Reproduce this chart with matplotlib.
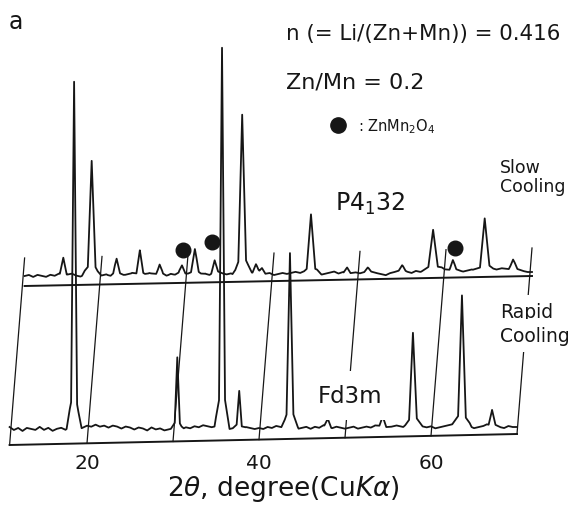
import numpy as np
import matplotlib
matplotlib.use("Agg")
import matplotlib.pyplot as plt

plt.rcParams['font.family'] = ['DejaVu Sans']
plt.rcParams['mathtext.fontset'] = 'dejavusans'

# ---------------- data ----------------
grid_start, grid_end, grid_step = 11.0, 70.0, 0.5

# Slow cooling (upper trace): peak 2theta (deg), height (a.u.), half width (deg)
slow_pos = [15.5, 18.8, 21.7, 24.4, 26.7, 29.3, 30.8, 33.1, 36.3, 37.9, 38.6,
            44.3, 48.5, 50.9, 54.9, 58.5, 60.8, 64.5, 67.8]
slow_h = [19, 114, 15, 24, 10, 8, 24, 13, 157, 8, 5,
          59, 7, 4, 5, 41, 10, 52, 10]
slow_hw = [0.4, 0.45, 0.4, 0.4, 0.4, 0.4, 0.45, 0.4, 0.45, 0.4, 0.4,
           0.5, 0.4, 0.4, 0.4, 0.55, 0.4, 0.55, 0.5]
slow_noise = [0, 1, -1, 1, 0, -1, 1, 0, 1, -1, 0, 2, 0, -1, 1, 0, 1, -1,
              0, 1, -1, 2, 1, 0, 1, 2, 0, 1, 0, 2, 1, 0, 1, -1, 1, 0, 2, 1,
              0, 1, 2, 0, 1, -1, 1, 2, 1, 0, 1, -1, 2, 3, 2, 1, 2, 1, 0, 1,
              -1, 0, 1, 0, 1, 2, 1, 0, 1, 0, 1, -1, 0, 1, 2, 0, 1, -1, 0, 1,
              0, 1, 2, 1, 0, -1, -2, 0, 1, 2, 3, 1, 0, 2, 1, 2, 3, 2, 3, 4,
              3, 2, 3, 2, 1, 2, 3, 2, 1, 2, 3, 2, 3, 4, 3, 2, 3, 2, 1, 0,
              0]

# Rapid cooling (lower trace)
rapid_pos = [18.5, 30.5, 35.7, 37.7, 43.6, 48.0, 54.4, 57.9, 63.6, 67.1]
rapid_h = [347, 70, 380, 37, 173, 9, 12, 92, 131, 17]
rapid_hw = [0.35, 0.3, 0.35, 0.3, 0.4, 0.4, 0.4, 0.45, 0.45, 0.4]
rapid_noise = [2, -1, 1, -2, 1, 0, -1, 2, -1, 1, -2, 0, 1, -1, 2, 0, -1, 1,
               3, 2, 4, 2, 3, 1, 3, 2, 0, 2, 1, -1, 1, 0, -2, 1, -1, 0, -2, -1,
               0, 1, -1, 1, 0, 2, 1, 3, 2, 1, 2, 0, 1, -1, 0, 1, -1, 1, 0, -1,
               0, -1, 1, 0, 2, 1, 0, 2, 1, -1, 0, 1, -1, 1, 0, 2, 0, -1, 1, 0,
               -1, 0, 1, -1, 0, 1, 0, 2, 1, -1, 0, 1, 2, 1, 0, 1, 3, 2, 1, 0,
               1, -1, 0, 1, 2, 3, 2, 1, 0, 1, -1, 0, 1, 2, 0, 1, 0, -1, 1, 0,
               0]

# ZnMn2O4 markers on the slow-cooling pattern
znmn_pos = [29.4, 32.8, 61.0]
znmn_h = [25, 33, 25]

frame_ticks = [11, 20, 30, 40, 50, 60, 70]
tick_labels = [20, 40, 60]

# ---------------- layout ----------------
W, H = 575, 506
PX_PER_DEG = 8.6
X20 = 87.0
SHIFT = 15.0 / PX_PER_DEG        # upper frame offset (deg)
INK = '#161616'


def lower_axis_y(t):
    return 60 + (np.asarray(t) - 11) * 11 / 59


def lower_base_y(t):
    return 76 + (np.asarray(t) - 11) * 2 / 59


def upper_axis_y(t):
    return 219 + (np.asarray(t) - 11) * 10 / 59


def upper_base_y(t):
    return 229 + (np.asarray(t) - 11) * 4 / 59


def px(x, y):
    """pixel position -> data coords of the full-figure axes"""
    return 20 + (x - X20) / PX_PER_DEG, H - y


def pattern(pos, h, hw, noise):
    grid = np.arange(grid_start, grid_end + 1e-9, grid_step)
    pos = np.asarray(pos, float)
    hw = np.asarray(hw, float)
    extra = np.concatenate([pos - 2.5 * hw, pos - hw, pos - hw * 0.15, pos,
                            pos + hw * 0.15, pos + hw, pos + 2.5 * hw])
    xs = np.unique(np.concatenate([grid, extra]))
    xs = xs[(xs >= grid_start) & (xs <= grid_end)]
    ys = np.interp(xs, grid, noise).astype(float)
    for p, hh, w in zip(pos, h, hw):
        ys += 0.88 * hh * np.clip(1 - np.abs(xs - p) / w, 0, None)
        ys += 0.12 * hh * np.clip(1 - np.abs(xs - p) / (2.5 * w), 0, None)
    return xs, ys


fig = plt.figure(figsize=(W / 100, H / 100), dpi=100)
ax = fig.add_axes([0, 0, 1, 1])
ax.set_xlim(20 - X20 / PX_PER_DEG, 20 + (W - X20) / PX_PER_DEG)
ax.set_ylim(0, H)
ax.axis('off')

# lower (rapid cooling) trace
xl, yl = pattern(rapid_pos, rapid_h, rapid_hw, rapid_noise)
ax.plot(xl, yl + lower_base_y(xl), color=INK, lw=1.3, zorder=3)
# upper (slow cooling) trace
xu, yu = pattern(slow_pos, slow_h, slow_hw, slow_noise)
ax.plot(xu + SHIFT, yu + upper_base_y(xu), color=INK, lw=1.3, zorder=3)

# frame axes lines
ends = np.array([grid_start, grid_end])
ax.plot(ends, lower_axis_y(ends), color=INK, lw=1.4, zorder=2)
ax.plot(ends + SHIFT, upper_axis_y(ends), color=INK, lw=1.4, zorder=2)

# connecting lines between the two frames
for t in frame_ticks:
    ax.plot([t, t + SHIFT], [lower_axis_y(t), upper_axis_y(t) + 28],
            color=INK, lw=0.9, zorder=2)

# ZnMn2O4 dots
zp = np.asarray(znmn_pos)
ax.plot(zp + SHIFT, upper_base_y(zp) + np.asarray(znmn_h), 'o', color=INK,
        ms=10.5, zorder=4)

# tick labels
for t in tick_labels:
    ax.text(t, H - 469, str(t), ha='center', va='baseline', fontsize=14.5,
            color=INK)

ax.text(*px(167, 496), r'2$\theta$, degree(Cu$K\alpha$)', ha='left',
        va='baseline', fontsize=19, color=INK)

# annotations
ax.text(*px(9, 29), 'a', fontsize=17, ha='left', va='baseline', color=INK)
ax.text(*px(286, 40), 'n (= Li/(Zn+Mn)) = 0.416', fontsize=15.4,
        ha='left', va='baseline', color=INK)
ax.text(*px(286, 88), 'Zn/Mn = 0.2', fontsize=16, ha='left',
        va='baseline', color=INK)
ax.plot(*px(338, 126), 'o', color=INK, ms=11, zorder=4)
ax.text(*px(358, 131), r': ZnMn$_2$O$_4$', fontsize=10.5, ha='left',
        va='baseline', color=INK)
ax.text(*px(500, 173), 'Slow', fontsize=12.5, ha='left', va='baseline',
        color=INK)
ax.text(*px(500, 192), 'Cooling', fontsize=12.5, ha='left', va='baseline',
        color=INK)
ax.text(*px(335, 211), r'P4$_1$32', fontsize=17, ha='left', va='baseline',
        color=INK)

white = dict(boxstyle='square,pad=0.35', fc='white', ec='none')
ax.text(*px(318, 403), 'Fd3m', fontsize=16.5, ha='left', va='baseline',
        color=INK, bbox=dict(boxstyle='square,pad=0.55', fc='white',
                             ec='none'), zorder=5)
ax.text(*px(500, 318), 'Rapid', fontsize=13.5, ha='left', va='baseline',
        color=INK, bbox=white, zorder=5)
ax.text(*px(500, 342), 'Cooling', fontsize=13.5, ha='left', va='baseline',
        color=INK, bbox=white, zorder=5)

fig.savefig('out.png', dpi=100, facecolor='white')
